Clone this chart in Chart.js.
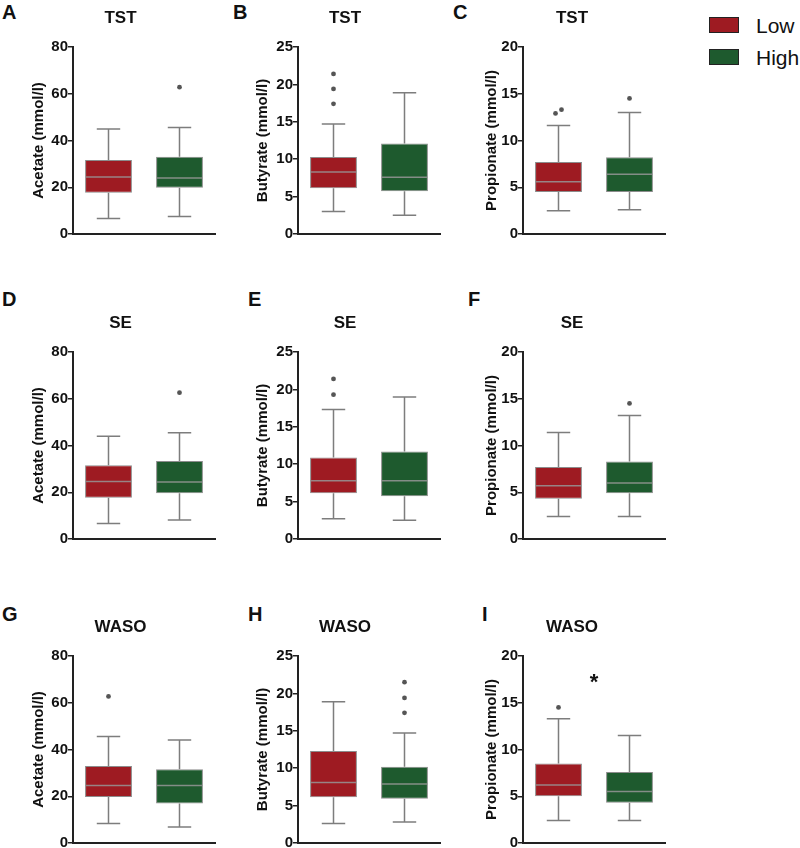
<!DOCTYPE html>
<html>
<head>
<meta charset="utf-8">
<script src="https://cdn.jsdelivr.net/npm/chart.js@4.4.1/dist/chart.umd.min.js"></script>
<style>
  html, body { margin: 0; padding: 0; background: #fff; }
  body { width: 800px; height: 848px; position: relative; overflow: hidden; font-family: "Liberation Sans", Arial, sans-serif; }
  canvas { position: absolute; }
  .lbl { position: absolute; font-weight: bold; font-size: 20px; color: #111; line-height: 1; }
  .leg { position: absolute; font-size: 21px; color: #111; line-height: 1; }
  .sw { position: absolute; width: 28px; height: 14px; border: 1.5px solid #222; }
</style>
</head>
<body>
<div class="lbl" style="left:2px;top:2px">A</div>
<div class="lbl" style="left:233px;top:2px">B</div>
<div class="lbl" style="left:453px;top:2px">C</div>
<div class="lbl" style="left:2px;top:289px">D</div>
<div class="lbl" style="left:248px;top:289px">E</div>
<div class="lbl" style="left:468px;top:289px">F</div>
<div class="lbl" style="left:2px;top:604px">G</div>
<div class="lbl" style="left:248px;top:604px">H</div>
<div class="lbl" style="left:482px;top:604px">I</div>

<div class="sw" style="left:709px;top:17px;background:#9e1b22"></div>
<div class="leg" style="left:756px;top:15px">Low</div>
<div class="sw" style="left:709px;top:49px;background:#1e5a2e"></div>
<div class="leg" style="left:756px;top:47px">High</div>

<canvas id="cA"></canvas><canvas id="cB"></canvas><canvas id="cC"></canvas>
<canvas id="cD"></canvas><canvas id="cE"></canvas><canvas id="cF"></canvas>
<canvas id="cG"></canvas><canvas id="cH"></canvas><canvas id="cI"></canvas>

<script>
// ---------------- DATA ----------------
const groups = ['Low', 'High'];
const outcomes = ['TST', 'SE', 'WASO'];
const acidTitles = ['Acetate (mmol/l)', 'Butyrate (mmol/l)', 'Propionate (mmol/l)'];
const yMaxes = [80, 25, 20];
const ySteps = [20, 5, 5];

// box stats: [min, q1, median, q3, max]
const A_low  = [6.6, 17.6, 24.4, 31.7, 44.9];  const A_low_out  = [];
const A_high = [7.5, 19.8, 24.0, 33.0, 45.6];  const A_high_out = [62.8];
const B_low  = [3.0, 6.1, 8.3, 10.3, 14.7];    const B_low_out  = [17.4, 19.4, 21.4];
const B_high = [2.5, 5.7, 7.6, 12.1, 18.9];    const B_high_out = [];
const C_low  = [2.5, 4.5, 5.6, 7.7, 11.6];     const C_low_out  = [12.9, 13.3];
const C_high = [2.6, 4.5, 6.4, 8.2, 13.0];     const C_high_out = [14.5];

const D_low  = [6.6, 17.6, 24.6, 31.6, 44.0];  const D_low_out  = [];
const D_high = [8.1, 19.6, 24.4, 33.4, 45.5];  const D_high_out = [62.6];
const E_low  = [2.7, 6.1, 7.8, 10.9, 17.3];    const E_low_out  = [19.3, 21.4];
const E_high = [2.5, 5.7, 7.8, 11.7, 19.0];    const E_high_out = [];
const F_low  = [2.4, 4.3, 5.7, 7.7, 11.4];     const F_low_out  = [];
const F_high = [2.4, 4.9, 6.0, 8.3, 13.2];     const F_high_out = [14.5];

const G_low  = [8.3, 19.7, 24.6, 32.9, 45.6];  const G_low_out  = [62.7];
const G_high = [6.8, 16.9, 24.6, 31.6, 44.1];  const G_high_out = [];
const H_low  = [2.6, 6.1, 8.1, 12.3, 18.9];    const H_low_out  = [];
const H_high = [2.8, 5.9, 7.9, 10.2, 14.7];    const H_high_out = [17.4, 19.4, 21.5];
const I_low  = [2.4, 5.0, 6.2, 8.5, 13.3];     const I_low_out  = [14.5];
const I_high = [2.4, 4.3, 5.5, 7.6, 11.5];     const I_high_out = [];

const I_signif = '*';
const I_signifY = 17.5;

// ---------------- STYLE / LAYOUT ----------------
const FONT = '"Liberation Sans", Arial, Helvetica, sans-serif';
const RED = '#9e1b22';
const GREEN = '#1e5a2e';
const AX = '#222222';

const cols = [
  {left: 0,   width: 264, padL: 26.0, yw: 47.0, padR: 49},
  {left: 240, width: 234, padL: 10.0, yw: 48.0, padR: 34},
  {left: 470, width: 226, padL: 9.0,  yw: 44.0, padR: 31}
];
const rowTops = [0, 305, 609];
const CH = 244;

const panels = [
  ['cA', 0, 0, A_low, A_high, A_low_out, A_high_out],
  ['cB', 0, 1, B_low, B_high, B_low_out, B_high_out],
  ['cC', 0, 2, C_low, C_high, C_low_out, C_high_out],
  ['cD', 1, 0, D_low, D_high, D_low_out, D_high_out],
  ['cE', 1, 1, E_low, E_high, E_low_out, E_high_out],
  ['cF', 1, 2, F_low, F_high, F_low_out, F_high_out],
  ['cG', 2, 0, G_low, G_high, G_low_out, G_high_out],
  ['cH', 2, 1, H_low, H_high, H_low_out, H_high_out],
  ['cI', 2, 2, I_low, I_high, I_low_out, I_high_out]
];

const boxPlugin = {
  id: 'boxWhisker',
  afterDatasetsDraw(chart) {
    const info = chart.options.plugins.boxWhisker;
    if (!info || !info.stats) return;
    const ctx = chart.ctx;
    const xs = chart.scales.x, ys = chart.scales.y;
    const meta = chart.getDatasetMeta(0);
    ctx.save();
    info.stats.forEach((s, i) => {
      const el = meta.data[i];
      const cx = xs.getPixelForValue(i);
      const w = el.width;
      const [mn, q1, md, q3, mx] = s;
      ctx.strokeStyle = '#7d7d7d';
      ctx.lineWidth = 1.5;
      ctx.beginPath();
      ctx.moveTo(cx, ys.getPixelForValue(q3)); ctx.lineTo(cx, ys.getPixelForValue(mx));
      ctx.moveTo(cx, ys.getPixelForValue(q1)); ctx.lineTo(cx, ys.getPixelForValue(mn));
      ctx.moveTo(cx - w / 4, ys.getPixelForValue(mx)); ctx.lineTo(cx + w / 4, ys.getPixelForValue(mx));
      ctx.moveTo(cx - w / 4, ys.getPixelForValue(mn)); ctx.lineTo(cx + w / 4, ys.getPixelForValue(mn));
      ctx.stroke();
      ctx.strokeStyle = 'rgba(150,150,150,0.85)';
      ctx.lineWidth = 1.5;
      ctx.beginPath();
      ctx.moveTo(cx - w / 2 + 1, ys.getPixelForValue(md));
      ctx.lineTo(cx + w / 2 - 1, ys.getPixelForValue(md));
      ctx.stroke();
      const outs = info.outliers[i];
      ctx.fillStyle = '#555555';
      outs.forEach((v, k) => {
        let dx = 0;
        const close = outs.some((o, j) => j !== k && Math.abs(o - v) < 0.8);
        if (close) dx = (outs.filter(o => Math.abs(o - v) < 0.8).sort((a, b) => a - b).indexOf(v) === 0) ? -3 : 3;
        ctx.beginPath();
        ctx.arc(cx + dx, ys.getPixelForValue(v), 2.4, 0, Math.PI * 2);
        ctx.fill();
      });
    });
    if (info.signif) {
      ctx.fillStyle = '#111';
      ctx.font = 'bold 22px ' + FONT;
      ctx.textAlign = 'center';
      ctx.textBaseline = 'middle';
      const mx = (xs.getPixelForValue(0) + xs.getPixelForValue(1)) / 2;
      ctx.fillText(info.signif, mx, ys.getPixelForValue(info.signifY) + 4);
    }
    ctx.restore();
  }
};

panels.forEach(([id, r, c, low, high, lowOut, highOut]) => {
  const col = cols[c];
  const cv = document.getElementById(id);
  cv.width = col.width; cv.height = CH;
  cv.style.left = col.left + 'px';
  cv.style.top = rowTops[r] + 'px';
  cv.style.width = col.width + 'px';
  cv.style.height = CH + 'px';
  const stats = [low, high];
  new Chart(cv, {
    type: 'bar',
    data: {
      labels: groups,
      datasets: [{
        data: stats.map(s => [s[1], s[3]]),
        backgroundColor: [RED, GREEN],
        borderColor: '#8c8c8c',
        borderWidth: 1,
        borderSkipped: false,
        barPercentage: 0.66,
        categoryPercentage: 1
      }]
    },
    options: {
      responsive: false,
      animation: false,
      devicePixelRatio: 1,
      layout: { padding: { left: col.padL, right: col.padR, top: 0, bottom: 10 } },
      plugins: {
        legend: { display: false },
        tooltip: { enabled: false },
        title: {
          display: true,
          text: outcomes[r],
          color: '#111',
          font: { family: FONT, size: 17, weight: 'bold', lineHeight: 1.2 },
          padding: { top: 8, bottom: 18.6 }
        },
        boxWhisker: {
          stats: stats,
          outliers: [lowOut, highOut],
          signif: (id === 'cI') ? I_signif : null,
          signifY: I_signifY
        }
      },
      scales: {
        x: {
          type: 'category',
          offset: true,
          grid: { display: false, drawTicks: false },
          border: { display: true, color: AX, width: 2 },
          ticks: { display: false },
          afterFit: s => { s.height = 0; }
        },
        y: {
          min: 0,
          max: yMaxes[c],
          ticks: { stepSize: ySteps[c], color: '#111', padding: 0, font: { family: FONT, size: 15, weight: 'bold' } },
          grid: { drawOnChartArea: false, tickLength: 5, color: AX, lineWidth: 1.5 },
          border: { display: true, color: AX, width: 2 },
          title: {
            display: true,
            text: acidTitles[c],
            color: '#111',
            font: { family: FONT, size: 15, weight: 'bold', lineHeight: 1.2 },
            padding: { top: 4, bottom: 4 }
          },
          afterFit: s => { s.width = col.yw; }
        }
      }
    },
    plugins: [boxPlugin]
  });
});
</script>
</body>
</html>
